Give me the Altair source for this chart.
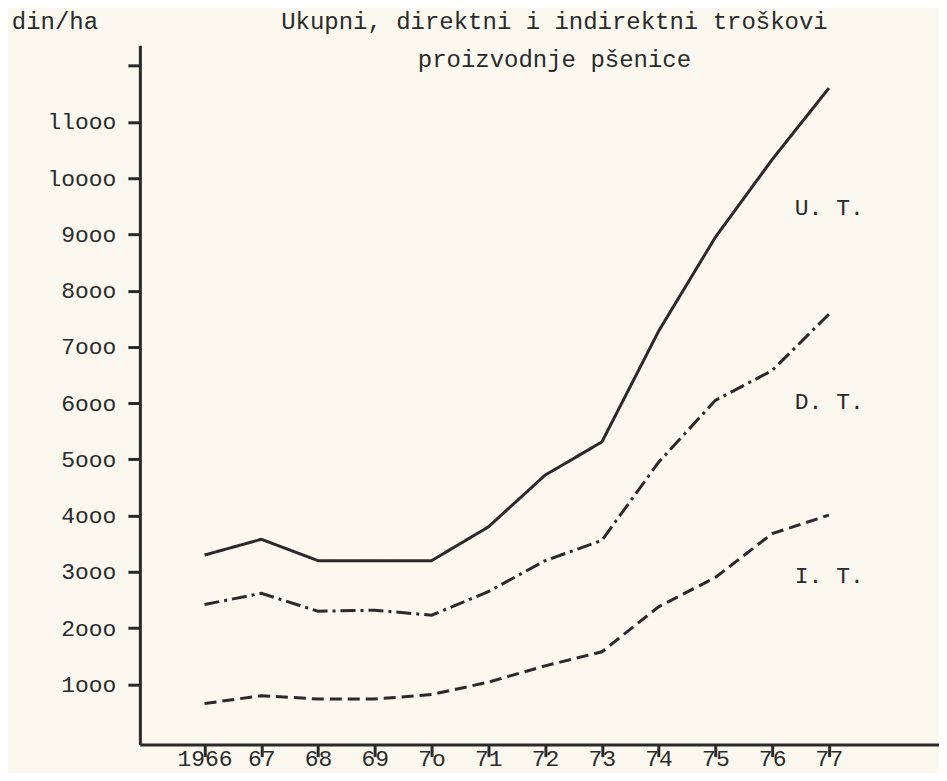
import altair as alt
import pandas as pd

years = [1966, 1967, 1968, 1969, 1970, 1971, 1972, 1973, 1974, 1975, 1976, 1977]
year_labels = ["1966", "67", "68", "69", "7o", "71", "72", "73", "74", "75", "76", "77"]
ukupni = [3300, 3580, 3200, 3200, 3200, 3800, 4720, 5310, 7280, 8950, 10330, 11600]
direktni = [2420, 2620, 2300, 2320, 2230, 2650, 3200, 3560, 4950, 6050, 6580, 7580]
indirektni = [660, 800, 740, 740, 820, 1040, 1330, 1580, 2380, 2900, 3680, 4010]
series_names = ["U. T.", "D. T.", "I. T."]
y_ticks = [1000, 2000, 3000, 4000, 5000, 6000, 7000, 8000, 9000, 10000, 11000, 12000]
y_tick_labels = ["1ooo", "2ooo", "3ooo", "4ooo", "5ooo", "6ooo", "7ooo", "8ooo", "9ooo",
                 "loooo", "llooo", ""]
label_years = [1976.4, 1976.4, 1976.4]
label_values = [9470, 6020, 2920]
title_lines = ["Ukupni, direktni i indirektni troškovi", "proizvodnje pšenice"]
unit_label = "din/ha"

FONT = "Liberation Mono"
INK = "#2a2a2a"
PAPER = "#faf8ef"

rows = []
for name, vals in zip(series_names, [ukupni, direktni, indirektni]):
    for yr, v in zip(years, vals):
        rows.append({"year": yr, "value": v, "series": name})
df = pd.DataFrame(rows)

lab_df = pd.DataFrame({"year": label_years, "value": label_values, "series": series_names})


def chain(vals, labels):
    expr = "''"
    for v, l in reversed(list(zip(vals, labels))):
        expr = f"datum.value == {v} ? '{l}' : ({expr})"
    return expr


xscale = alt.Scale(domain=[1964.86, 1978.94], nice=False, zero=False)
yscale = alt.Scale(domain=[-70, 12360], nice=False, zero=False)

xaxis = alt.Axis(values=years, labelExpr=chain(years, year_labels), title=None,
                 grid=False, domainColor=INK, domainWidth=3, tickColor=INK, tickWidth=3,
                 tickSize=12, labelFont=FONT, labelFontSize=23, labelColor=INK,
                 labelPadding=-9, labelFlush=False, labelOverlap=False)
yaxis = alt.Axis(values=y_ticks, labelExpr=chain(y_ticks, y_tick_labels), title=None,
                 grid=False, domainColor=INK, domainWidth=3, tickColor=INK, tickWidth=3,
                 tickSize=12, labelFont=FONT, labelFontSize=23, labelColor=INK,
                 labelPadding=12, labelFlush=False, labelOverlap=False)

lines = alt.Chart(df).mark_line(strokeWidth=3, color=INK, clip=False).encode(
    x=alt.X("year:Q", scale=xscale, axis=xaxis),
    y=alt.Y("value:Q", scale=yscale, axis=yaxis),
    strokeDash=alt.StrokeDash("series:N", scale=alt.Scale(
        domain=series_names, range=[[1, 0], [15, 5, 3, 5], [12, 6]]), legend=None),
    detail="series:N",
)

labels = alt.Chart(lab_df).mark_text(font=FONT, fontSize=23, color=INK, align="left",
                                      baseline="middle").encode(
    x=alt.X("year:Q", scale=xscale),
    y=alt.Y("value:Q", scale=yscale),
    text="series:N",
)

title1 = alt.Chart(pd.DataFrame({"t": [title_lines[0]]})).mark_text(
    font=FONT, fontSize=24, color=INK, align="center", baseline="middle").encode(
    x=alt.value(415), y=alt.value(-23), text="t:N")
title2 = alt.Chart(pd.DataFrame({"t": [title_lines[1]]})).mark_text(
    font=FONT, fontSize=24, color=INK, align="center", baseline="middle").encode(
    x=alt.value(415), y=alt.value(15), text="t:N")
unit = alt.Chart(pd.DataFrame({"t": [unit_label]})).mark_text(
    font=FONT, fontSize=24, color=INK, align="center", baseline="middle").encode(
    x=alt.value(-85), y=alt.value(-23), text="t:N")

chart = alt.layer(lines, labels, title1, title2, unit).properties(
    width=800, height=700,
    autosize=alt.AutoSizeParams(type="none"),
    padding={"left": 132, "top": 37, "right": 0, "bottom": 28},
    background=PAPER,
).configure_view(stroke=None)

chart.save("out.html", embed_options={"renderer": "svg", "actions": False})
